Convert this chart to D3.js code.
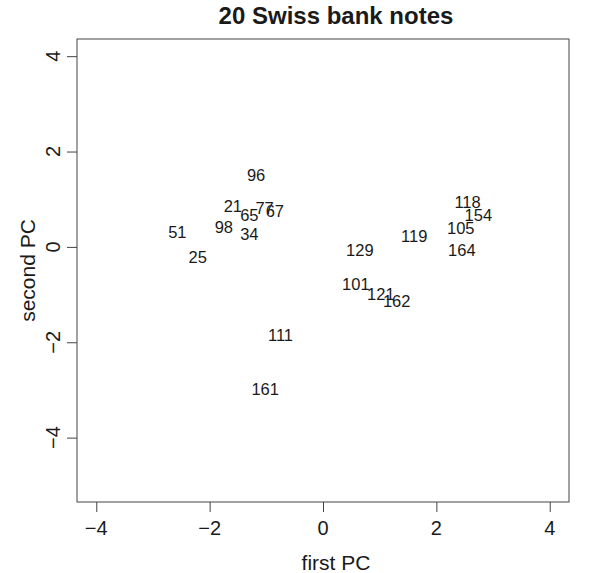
<!DOCTYPE html>
<html>
<head>
<meta charset="utf-8">
<script src="https://cdn.jsdelivr.net/npm/d3@7"></script>
<style>
    body { margin: 0; background: #fff; }
    text { font-family: "Liberation Sans", Arial, sans-serif; fill: #1a1a1a; }
</style>
</head>
<body>
<div id="chart"></div>
<script>
// note numbers, first and second principal component scores
const noteIds = ['96', '21', '77', '67', '65', '51', '98', '34', '25', '111', '161',
    '129', '119', '101', '121', '162', '118', '154', '105', '164'];
const pc1 = [-1.18, -1.59, -1.03, -0.85, -1.30, -2.57, -1.75, -1.30, -2.21, -0.75, -1.02,
    0.65, 1.61, 0.58, 1.02, 1.30, 2.55, 2.74, 2.43, 2.45];
const pc2 = [1.51, 0.86, 0.81, 0.76, 0.66, 0.32, 0.41, 0.27, -0.22, -1.85, -2.98,
    -0.06, 0.23, -0.78, -0.99, -1.13, 0.93, 0.67, 0.40, -0.06];

const xTicks = [-4, -2, 0, 2, 4];
const yTicks = [-4, -2, 0, 2, 4];

const width = 596, height = 573;
const box = { left: 77, right: 569, top: 39, bottom: 502 };

const fmt = d => d < 0 ? '\u2212' + Math.abs(d) : String(d);

const svg = d3.select('#chart')
    .append('svg')
    .attr('width', width)
    .attr('height', height);

const x = d3.scaleLinear()
    .domain([-4.34, 4.34])
    .range([box.left, box.right]);

const y = d3.scaleLinear()
    .domain([-5.35, 4.36])
    .range([box.bottom, box.top]);

// tick marks from d3 axes, labels placed by hand like R does
const xAxis = svg.append('g')
    .attr('transform', `translate(0,${box.bottom})`)
    .call(d3.axisBottom(x).tickValues(xTicks).tickSize(10).tickFormat(''));
xAxis.select('.domain').remove();
xAxis.selectAll('line').attr('stroke', '#444');

const yAxis = svg.append('g')
    .attr('transform', `translate(${box.left},0)`)
    .call(d3.axisLeft(y).tickValues(yTicks).tickSize(10).tickFormat(''));
yAxis.select('.domain').remove();
yAxis.selectAll('line').attr('stroke', '#444');

svg.append('g')
    .selectAll('text')
    .data(xTicks)
    .join('text')
    .attr('x', d => x(d))
    .attr('y', 528)
    .attr('dy', '0.36em')
    .attr('text-anchor', 'middle')
    .attr('font-size', 20)
    .text(fmt);

svg.append('g')
    .selectAll('text')
    .data(yTicks)
    .join('text')
    .attr('transform', d => `translate(52.5,${y(d)}) rotate(-90)`)
    .attr('dy', '0.36em')
    .attr('text-anchor', 'middle')
    .attr('font-size', 20)
    .text(fmt);

// plot frame
svg.append('rect')
    .attr('x', box.left)
    .attr('y', box.top)
    .attr('width', box.right - box.left)
    .attr('height', box.bottom - box.top)
    .attr('fill', 'none')
    .attr('stroke', '#444')
    .attr('stroke-width', 1);

// note labels drawn at their scores
svg.append('g')
    .selectAll('text')
    .data(noteIds)
    .join('text')
    .attr('x', (d, i) => x(pc1[i]))
    .attr('y', (d, i) => y(pc2[i]))
    .attr('dy', '0.36em')
    .attr('text-anchor', 'middle')
    .attr('font-size', 16.5)
    .text(d => d);

svg.append('text')
    .attr('x', 336)
    .attr('y', 15.5)
    .attr('dy', '0.36em')
    .attr('text-anchor', 'middle')
    .attr('font-size', 24)
    .attr('font-weight', 'bold')
    .text('20 Swiss bank notes');

svg.append('text')
    .attr('x', 336)
    .attr('y', 562)
    .attr('dy', '0.36em')
    .attr('text-anchor', 'middle')
    .attr('font-size', 21)
    .text('first PC');

svg.append('text')
    .attr('transform', `translate(27.5,${(box.top + box.bottom) / 2}) rotate(-90)`)
    .attr('dy', '0.36em')
    .attr('text-anchor', 'middle')
    .attr('font-size', 21)
    .text('second PC');
</script>
</body>
</html>
